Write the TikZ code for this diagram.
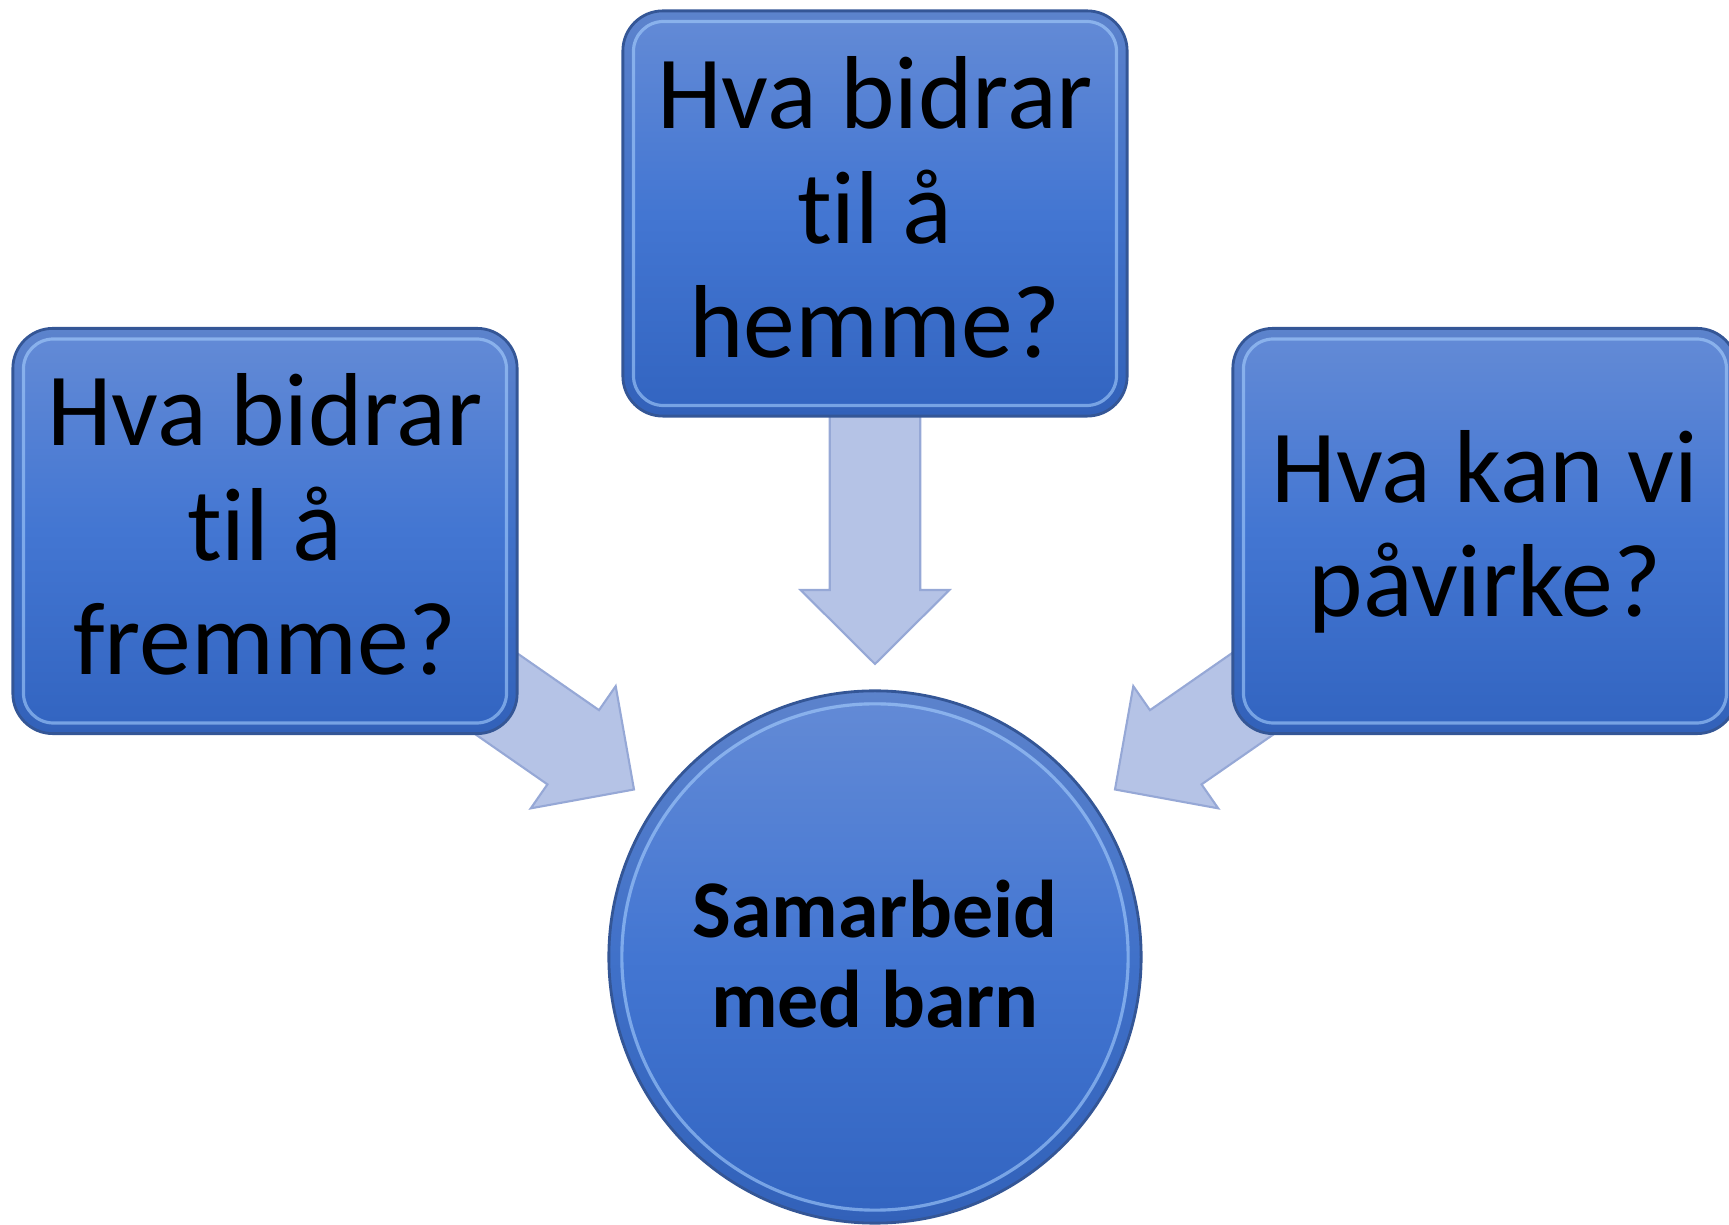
\documentclass[tikz,border=0pt]{standalone}
\usepackage{fontspec}
\setmainfont{Carlito}[Ligatures=NoCommon]
\usetikzlibrary{calc}
\definecolor{boxtop}{RGB}{100,139,214}
\definecolor{boxmid}{RGB}{67,118,210}
\definecolor{boxbot}{RGB}{50,100,192}
\definecolor{boxedge}{RGB}{52,86,150}
\definecolor{bevel}{RGB}{165,205,252}
\definecolor{arrowfill}{RGB}{181,195,230}
\definecolor{arrowedge}{RGB}{150,168,214}
\newcommand\blockarrow[3]{%
  \begin{scope}[shift={(#1)}, rotate=#2]
    \filldraw[arrowshape] (0,0) -- (-74,74.4) -- (-74,45.2) -- (-#3,45.2)
      -- (-#3,-45.2) -- (-74,-45.2) -- (-74,-74.4) -- cycle;
  \end{scope}}
\newcommand\boxbevel[1]{%
  \draw[darkband, rounded corners=0.35cm] ($(#1.north west)+(6,6)$) rectangle ($(#1.south east)+(-6,-6)$);
  \draw[bevelline, rounded corners=0.3cm] ($(#1.north west)+(12,12)$) rectangle ($(#1.south east)+(-12,-12)$);}
\begin{document}
\begin{tikzpicture}[x=0.01cm,y=-0.01cm,
  qbox/.style={rectangle, rounded corners=0.4cm, minimum width=5.04cm,
    minimum height=4.05cm, top color=boxtop, bottom color=boxbot,
    middle color=boxmid, draw=boxedge, line width=0.8pt, inner sep=0pt},
  qtext/.style={align=center, inner sep=0pt,
    font=\fontsize{29.5}{32.5}\selectfont},
  qcirc/.style={circle, minimum size=5.32cm, inner sep=0pt,
    top color=boxtop, bottom color=boxbot, middle color=boxmid,
    draw=boxedge, line width=0.8pt},
  ctext/.style={align=center, inner sep=0pt,
    font=\fontsize{23.3}{25.6}\selectfont\bfseries},
  darkband/.style={draw=boxedge, line width=0.1cm, opacity=0.15},
  bevelline/.style={draw=bevel, line width=0.9pt, opacity=0.6},
  arrowshape/.style={fill=arrowfill, draw=arrowedge, line width=0.6pt, line join=miter}]
\useasboundingbox (0,0) rectangle (1729,1225);
% arrow tips
\coordinate (tipD) at (875,664);
\coordinate (tipL) at (634,789.5);
\coordinate (tipR) at (1115,789.5);
% arrows (behind boxes)
\blockarrow{tipD}{-90}{284}
\blockarrow{tipL}{-34.8}{250}
\blockarrow{tipR}{-145.2}{250}
% boxes
\node[qbox] (top) at (875,213.5) {};
\boxbevel{top}
\node[qtext] (toptext) at ($(top.center)+(0,-6)$) {Hva bidrar\\t\kern0pt il å\\hemme?};
\node[qbox] (left) at (265,531) {};
\boxbevel{left}
\node[qtext] (lefttext) at ($(left.center)+(0,-6.5)$) {Hva bidrar\\t\kern0pt il å\\fremme?};
\node[qbox] (right) at (1485,531) {};
\boxbevel{right}
\node[qtext] (righttext) at ($(right.center)+(0,1)$) {Hva kan vi\\påvirke?};
% circle
\node[qcirc] (c) at (875,957) {};
\draw[darkband] (c.center) circle (2.6cm);
\draw[bevelline] (c.center) circle (2.53cm);
\node[ctext] (ctext) at ($(c.center)+(0,-3)$) {Samarbeid\\med barn};
\end{tikzpicture}
\end{document}
